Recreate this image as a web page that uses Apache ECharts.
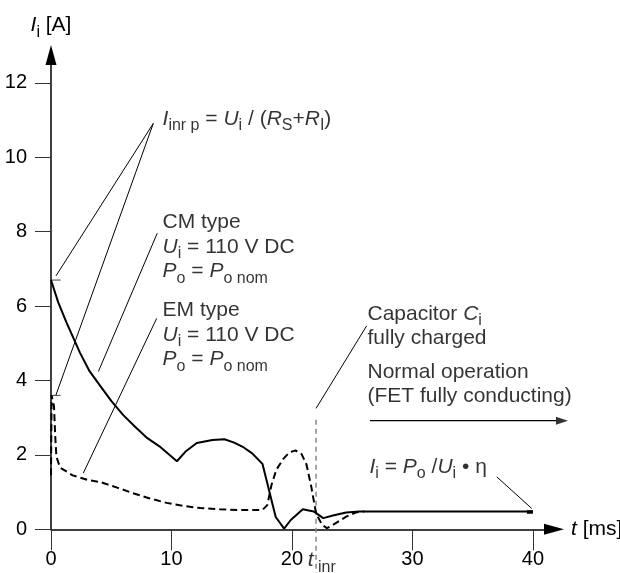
<!DOCTYPE html>
<html><head><meta charset="utf-8">
<script src="https://cdn.jsdelivr.net/npm/echarts@6/dist/echarts.min.js"></script>
<style>html,body{margin:0;padding:0;background:#fff}#c{width:620px;height:573px}</style>
</head><body><div id="c"></div>
<script>
// ---- data ----
const xTicks = [0, 10, 20, 30, 40];
const yTicks = [0, 2, 4, 6, 8, 10, 12];
// CM type, solid curve
const cmTime    = [0, 0.6, 1.3, 2.4, 3.2, 4.1, 5.0, 6.0, 7.0, 8.0, 9.0, 10.45, 11.2, 12.1, 13.4, 14.4, 15.2, 16.0, 16.7, 17.55, 18.15, 18.65, 19.35, 19.9, 20.9, 21.8, 22.6, 23.4, 24.5, 25.6, 27.0, 40.0];
const cmCurrent = [6.7, 6.1, 5.55, 4.75, 4.25, 3.85, 3.45, 3.07, 2.75, 2.45, 2.23, 1.83, 2.1, 2.32, 2.4, 2.42, 2.33, 2.2, 2.04, 1.76, 0.98, 0.33, 0.02, 0.25, 0.54, 0.48, 0.3, 0.37, 0.45, 0.48, 0.48, 0.48];
// EM type, dashed curve
const emTime    = [0, 0.05, 0.25, 0.35, 0.45, 0.75, 1.8, 3.0, 4.1, 5.5, 6.8, 8.2, 9.6, 11.0, 12.4, 14.0, 15.5, 17.55, 17.95, 18.3, 18.7, 19.3, 19.8, 20.3, 20.8, 21.2, 21.6, 22.0, 22.5, 22.9, 23.4, 24.5, 25.4, 26.0];
const emCurrent = [1.45, 3.6, 3.3, 2.5, 1.95, 1.66, 1.45, 1.33, 1.27, 1.12, 0.97, 0.83, 0.71, 0.63, 0.57, 0.54, 0.52, 0.52, 0.65, 1.19, 1.6, 1.9, 2.07, 2.12, 2.02, 1.75, 1.15, 0.43, 0.12, 0.03, 0.12, 0.34, 0.46, 0.48];
const peakCurrents = [6.7, 3.6];   // I_inr p for CM and EM
const tInr = 22;                   // capacitor fully charged
const steadyCurrent = 0.48;

const FONT = "'Liberation Sans', Arial, Helvetica, sans-serif";
const rich = {
  n:   {fontFamily: FONT, fontSize: 21, lineHeight: 24.5, color: '#000'},
  it:  {fontFamily: FONT, fontSize: 21, lineHeight: 24.5, fontStyle: 'italic', color: '#000'},
  sub: {fontFamily: FONT, fontSize: 16, lineHeight: 10, padding: [14, 0, 0, 0], color: '#000'}
};

// annotation texts anchored in data coordinates (top-left of text block)
const annotations = [
  {at: [9.3, 11.35], text: '{it|I}{sub|inr p}{n| = }{it|U}{sub|i}{n| / (}{it|R}{sub|S}{n|+}{it|R}{sub|I}{n|)}'},
  {at: [9.3, 8.57],  text: '{n|CM type}\n{it|U}{sub|i}{n| = 110 V DC}\n{it|P}{sub|o}{n| = }{it|P}{sub|o nom}'},
  {at: [9.3, 6.20],  text: '{n|EM type}\n{it|U}{sub|i}{n| = 110 V DC}\n{it|P}{sub|o}{n| = }{it|P}{sub|o nom}'},
  {at: [26.31, 6.11], text: '{n|Capacitor }{it|C}{sub|i}\n{n|fully charged}'},
  {at: [26.31, 4.54], text: '{n|Normal operation}\n{n|(FET fully conducting)}'},
  {at: [26.48, 1.99], text: '{it|I}{sub|i}{n| = }{it|P}{sub|o}{n| /}{it|U}{sub|i}{n| • η}'},
  {at: [21.35, -0.52], text: '{it|t}{sub| inr}'}
];

const thin = {color: '#000', width: 1, type: 'solid'};
function seg(a, b, style) {
  return [{coord: a, symbol: 'none', lineStyle: style}, {coord: b, symbol: 'none'}];
}
// leader lines (inside the axis range)
const markLines = [
  seg([8.49, 10.91], [0.41, 6.81], thin),
  seg([8.49, 10.91], [0.41, 3.61], thin),
  seg([8.82, 7.96], [3.93, 4.24], thin),
  seg([8.77, 5.67], [2.68, 1.51], thin),
  seg([26.2, 5.47], [tInr, 3.25], thin),
  seg([37.0, 1.41], [39.9, 0.56], thin),
  seg([39.5, steadyCurrent], [40, steadyCurrent], {color: '#000', width: 3.5, type: 'solid'})
];
function guide(name, pts, style) {
  return {name: name, type: 'line', clip: false, symbol: 'none', silent: true, z: 2,
    lineStyle: style, data: pts};
}

const chart = echarts.init(document.getElementById('c'), null, {renderer: 'canvas'});
chart.setOption({
  animation: false,
  backgroundColor: '#fff',
  textStyle: {fontFamily: FONT},
  grid: {left: 51, top: 55, width: 503, height: 474.3, containLabel: false, outerBoundsMode: 'none'},
  xAxis: {
    type: 'value', min: 0, max: 41.75, interval: 10,
    name: '{it|t}{n| [ms]}', nameLocation: 'end', nameGap: 17, nameMoveOverlap: false,
    nameTextStyle: {rich: rich, verticalAlign: 'middle', align: 'left'},
    axisLine: {show: true, onZero: false, symbol: ['none', 'triangle'], symbolSize: [11, 20], lineStyle: {color: '#000', width: 1.5}},
    axisTick: {show: true, length: 21, customValues: xTicks, lineStyle: {color: '#333', width: 1}},
    axisLabel: {show: true, margin: 20, customValues: xTicks, fontSize: 20, color: '#000', fontFamily: FONT,
      formatter: v => (xTicks.indexOf(v) >= 0 ? String(v) : '')},
    splitLine: {show: false}
  },
  yAxis: {
    type: 'value', min: 0, max: 12.75, interval: 2,
    name: '{it|I}{sub|i}{n| [A]}', nameLocation: 'end', nameGap: 17.5, nameMoveOverlap: false,
    nameTextStyle: {rich: rich, align: 'center', verticalAlign: 'bottom'},
    axisLine: {show: true, onZero: false, symbol: ['none', 'triangle'], symbolSize: [11, 20], lineStyle: {color: '#000', width: 1.5}},
    axisTick: {show: true, length: 16, customValues: yTicks, lineStyle: {color: '#333', width: 1}},
    axisLabel: {show: true, margin: 24, customValues: yTicks, fontSize: 20, color: '#000', fontFamily: FONT,
      formatter: v => (yTicks.indexOf(v) >= 0 ? String(v) : '')},
    splitLine: {show: false}
  },
  series: [
    {
      name: 'CM type', type: 'line', clip: false, symbol: 'none', silent: true, z: 3,
      lineStyle: {color: '#000', width: 2},
      data: cmTime.map((t, i) => [t, cmCurrent[i]]),
      markLine: {silent: true, symbol: ['none', 'none'], label: {show: false}, emphasis: {disabled: true},
        animation: false, data: markLines}
    },
    {
      name: 'EM type', type: 'line', clip: false, symbol: 'none', silent: true, z: 3,
      lineStyle: {color: '#000', width: 2, type: [7, 4]},
      data: emTime.map((t, i) => [t, emCurrent[i]])
    },
    guide('peak CM', [[-0.75, peakCurrents[0]], [0.8, peakCurrents[0]]], {color: '#444', width: 1}),
    guide('peak EM', [[-0.75, peakCurrents[1]], [0.8, peakCurrents[1]]], {color: '#444', width: 1}),
    guide('t_inr', [[tInr, -1.3], [tInr, 3.05]], {color: '#888', width: 1.5, type: [5, 4]}),
    guide('normal arrow', [[26.48, 2.92], [42.41, 2.92]], {color: '#000', width: 1.2}),
    {
      name: 'arrow head', type: 'scatter', clip: false, silent: true, z: 4,
      symbol: 'triangle', symbolSize: [8, 12], symbolRotate: -90,
      itemStyle: {color: '#000'}, data: [[42.41, 2.92]]
    },
    {
      name: 'notes', type: 'scatter', clip: false, silent: true, z: 5, symbolSize: 1,
      itemStyle: {color: 'rgba(0,0,0,0)'},
      label: {show: true, position: [0, 0], align: 'left', verticalAlign: 'top', rich: rich},
      data: annotations.map(a => ({value: a.at, label: {formatter: () => a.text}}))
    }
  ]
});
</script></body></html>
